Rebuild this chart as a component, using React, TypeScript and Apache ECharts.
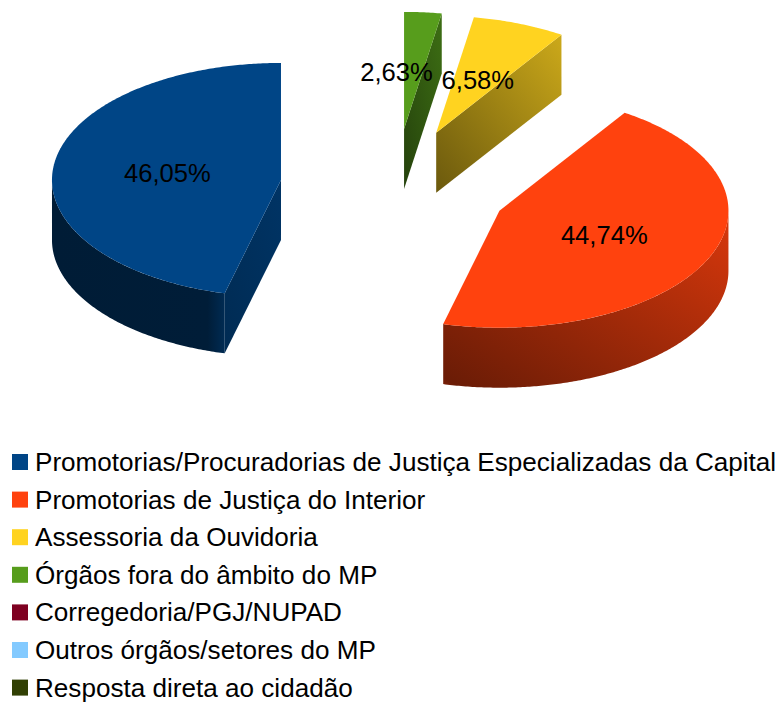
import React, { useEffect, useRef } from "react";
import * as echarts from "echarts";

const categories = [
  "Promotorias/Procuradorias de Justiça Especializadas da Capital",
  "Promotorias de Justiça do Interior",
  "Assessoria da Ouvidoria",
  "Órgãos fora do âmbito do MP",
  "Corregedoria/PGJ/NUPAD",
  "Outros órgãos/setores do MP",
  "Resposta direta ao cidadão",
];
const values = [46.05, 44.74, 6.58, 2.63, 0, 0, 0];
const labels = ["46,05%", "44,74%", "6,58%", "2,63%", "", "", ""];
const palette = ["#004586", "#ff420e", "#ffd320", "#579d1c", "#7e0021", "#83caff", "#314004"];

// Pie projection
const CX = 394.6;
const CY = 187.2;
const RX = 229;
const RY = 117;
const DEPTH = 60;
const EXPLODE = 0.5;
const FONT = "'Liberation Sans', Arial, sans-serif";

const total = values.reduce((a, b) => a + b, 0);
const toAngle = (v: number) => (v / total) * Math.PI * 2;
const dirX = (a: number) => -Math.sin(a);
const dirY = (a: number) => -Math.cos(a);

function arc(cx: number, cy: number, a0: number, a1: number, dy = 0) {
  const n = Math.max(2, Math.ceil(Math.abs(a1 - a0) / 0.01));
  const pts: number[][] = [];
  for (let i = 0; i <= n; i++) {
    const a = a0 + ((a1 - a0) * i) / n;
    pts.push([cx + RX * dirX(a), cy + RY * dirY(a) + dy]);
  }
  return pts;
}

function shade(hex: string, f: number) {
  const n = parseInt(hex.slice(1), 16);
  const c = [(n >> 16) & 255, (n >> 8) & 255, n & 255].map((v) => Math.round(v * f));
  return `rgb(${c[0]},${c[1]},${c[2]})`;
}

function gradient(base: string, stops: number[][], x0 = 0, y0 = 1, x1 = 1, y1 = 0) {
  return new echarts.graphic.LinearGradient(
    x0, y0, x1, y1,
    stops.map(([offset, f]) => ({ offset, color: shade(base, f) }))
  );
}

// Lighting of the outer wall and the cut face of each slice
const wallStops: number[][][] = [
  [[0, 0.4], [0.9, 0.42], [1, 0.62]],
  [[0, 0.5], [0.03, 0.42], [1, 0.85]],
];
const faceStops: number[][][] = [
  [[0, 0.62], [1, 0.75]],
  [[0, 0.5], [1, 0.8]],
  [[0, 0.42], [1, 0.8]],
  [[0, 0.42], [1, 0.7]],
];
const labelShiftX = [0, 0, 0, -17];
const labelShiftY = [0, 1, 2, 1];

function makeRenderItem(index: number) {
  return (_params: any, api: any) => {
    const v = api.value(0);
    if (!v) return { type: "group", children: [] };
    const start = toAngle(values.slice(0, index).reduce((a, b) => a + b, 0));
    const end = start + toAngle(v);
    const mid = (start + end) / 2;
    const base = palette[index];
    const ox = CX + RX * EXPLODE * dirX(mid);
    const oy = CY + RY * EXPLODE * dirY(mid);
    const children: any[] = [];

    const cutFace = (a: number) => {
      const px = ox + RX * dirX(a);
      const py = oy + RY * dirY(a);
      children.push({
        type: "polygon",
        shape: { points: [[ox, oy], [px, py], [px, py + DEPTH], [ox, oy + DEPTH]] },
        style: { fill: gradient(base, faceStops[index] || [[0, 0.5], [1, 0.8]]), stroke: "none" },
      });
    };
    if (-Math.sin(start) > 1e-6) cutFace(start);
    if (Math.sin(end) > 1e-6) cutFace(end);

    const w0 = Math.max(start, Math.PI / 2);
    const w1 = Math.min(end, (Math.PI * 3) / 2);
    if (w1 > w0) {
      const top = arc(ox, oy, w0, w1);
      const bottom = arc(ox, oy, w0, w1, DEPTH).reverse();
      const diag = index === 0 ? [0, 0, 1, 0] : [0, 1, 1, 0];
      children.push({
        type: "polygon",
        shape: { points: top.concat(bottom) },
        style: {
          fill: gradient(base, wallStops[index] || [[0, 0.4], [1, 0.8]], diag[0], diag[1], diag[2], diag[3]),
          stroke: "none",
        },
      });
    }

    children.push({
      type: "polygon",
      shape: { points: [[ox, oy], ...arc(ox, oy, start, end)] },
      style: { fill: base, stroke: "none" },
    });

    children.push({
      type: "text",
      z2: 100,
      style: {
        text: labels[index],
        x: ox + 0.5 * RX * dirX(mid) + (labelShiftX[index] || 0),
        y: oy + 0.5 * RY * dirY(mid) + (labelShiftY[index] || 0),
        fill: "#000000",
        font: `25.6px ${FONT}`,
        align: "center",
        verticalAlign: "middle",
      },
    });
    return { type: "group", children };
  };
}

export default function App() {
  const ref = useRef<HTMLDivElement>(null);
  useEffect(() => {
    document.body.style.margin = "0";
    const chart = echarts.init(ref.current!, undefined, { renderer: "svg" });
    chart.setOption({
      animation: false,
      backgroundColor: "#ffffff",
      color: palette,
      legend: {
        show: true,
        orient: "vertical",
        left: 12,
        top: 449,
        padding: 0,
        icon: "rect",
        itemWidth: 16,
        itemHeight: 16,
        itemGap: 11.6,
        selectedMode: false,
        data: categories,
        textStyle: { fontFamily: FONT, fontSize: 26.1, color: "#000000", lineHeight: 26, padding: [0, 0, 0, 2] },
      },
      series: categories.map((name, i) => ({
        type: "custom",
        name,
        coordinateSystem: "none",
        silent: true,
        data: [{ name, value: values[i] }],
        renderItem: makeRenderItem(i),
      })),
    });
    return () => chart.dispose();
  }, []);
  return <div ref={ref} style={{ width: 779, height: 702 }} />;
}
